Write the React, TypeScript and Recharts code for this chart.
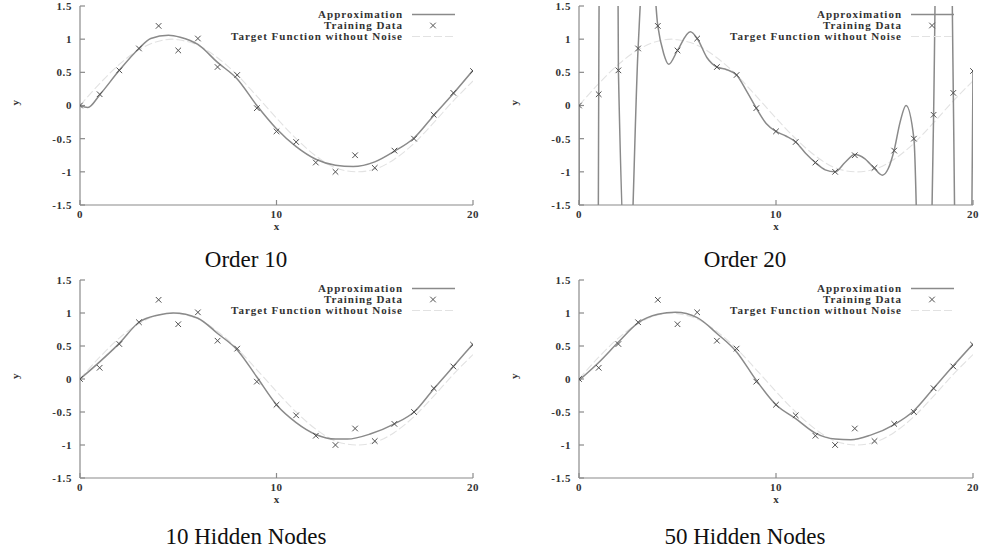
import React from "react";
import { ComposedChart, Line, Scatter, XAxis, YAxis } from "recharts";

const xTicks = [0, 10, 20];
const yTicks = [-1.5, -1, -0.5, 0, 0.5, 1, 1.5];

// noisy training samples
const trainX = [0, 1, 2, 3, 4, 5, 6, 7, 8, 9, 10, 11, 12, 13, 14, 15, 16, 17, 18, 19, 20];
const trainY = [0.0, 0.17, 0.53, 0.86, 1.2, 0.83, 1.01, 0.58, 0.46, -0.04, -0.39, -0.55, -0.86, -1.0, -0.75, -0.94, -0.68, -0.5, -0.14, 0.19, 0.52];

// target function without noise
const targetX = [0, 1, 2, 3, 4, 4.7, 5, 6, 7, 8, 9, 10, 11, 12, 13, 14.1, 15, 16, 17, 18, 19, 20];
const targetY = [0.0, 0.33, 0.62, 0.84, 0.97, 1.0, 0.99, 0.91, 0.72, 0.46, 0.14, -0.19, -0.5, -0.76, -0.94, -1.0, -0.96, -0.81, -0.57, -0.26, 0.07, 0.37];

// polynomial, order 10
const order10X = [0, 0.4, 1, 2, 3, 3.6, 4.5, 5.1, 6, 7, 8, 9, 10, 11, 12, 13, 13.9, 15, 16, 17, 18, 19, 20];
const order10Y = [0.0, -0.03, 0.16, 0.53, 0.86, 1.01, 1.06, 1.03, 0.92, 0.65, 0.4, 0.0, -0.35, -0.62, -0.81, -0.9, -0.92, -0.85, -0.69, -0.49, -0.15, 0.18, 0.53];

// polynomial, order 20 (swings far outside the frame near the ends)
const order20X = [0, 0.5, 1, 1.5, 2, 2.5, 3, 3.5, 4, 4.3, 4.55, 5, 5.65, 6, 6.5, 7, 7.5, 8, 8.5, 9, 9.5, 10, 10.5, 11, 11.5, 12, 12.5, 13, 13.5, 14, 14.5, 15, 15.4, 15.7, 16, 16.3, 16.6, 17, 17.5, 18, 18.5, 19, 19.5, 20];
const order20Y = [0.0, -40, 0.17, 30, 0.53, -3, 0.86, 3, 1.2, 0.78, 0.62, 0.83, 1.11, 1.01, 0.72, 0.58, 0.54, 0.46, 0.22, -0.04, -0.27, -0.39, -0.46, -0.55, -0.72, -0.86, -0.97, -1.0, -0.86, -0.74, -0.8, -0.95, -1.05, -0.95, -0.67, -0.25, 0.0, -0.5, -6, -0.14, 12, 0.19, -12, 0.53];

// network, 10 hidden nodes
const hidden10X = [0, 1, 2, 3, 4, 4.75, 6, 7, 8, 9, 10, 11, 12, 13, 13.6, 14.8, 16, 17, 18, 19, 20];
const hidden10Y = [0.0, 0.26, 0.54, 0.86, 0.97, 1.0, 0.92, 0.69, 0.44, 0.03, -0.39, -0.66, -0.84, -0.91, -0.91, -0.83, -0.68, -0.5, -0.15, 0.19, 0.53];

// network, 50 hidden nodes
const hidden50X = [0, 1, 2, 3, 4, 4.9, 6, 7, 8, 9, 10, 11, 12, 13, 13.8, 14.8, 16, 17, 18, 19, 20];
const hidden50Y = [-0.02, 0.25, 0.56, 0.85, 0.98, 1.01, 0.93, 0.69, 0.41, -0.02, -0.39, -0.6, -0.82, -0.91, -0.92, -0.85, -0.69, -0.48, -0.14, 0.2, 0.53];

const legendLabels = ["Approximation", "Training Data", "Target Function without Noise"];

const zip = (xs: number[], ys: number[]) => xs.map((x, i) => ({ x, y: ys[i] }));

const train = zip(trainX, trainY);
const target = zip(targetX, targetY);

const SERIF = '"Liberation Serif", "Times New Roman", serif';
const FRAME = "#8a8a8a";
const APPROX = "#8a8a8a";
const MARK = "#505050";
const TARGET = "#e2e2e2";

const tickStyle = { fontSize: 11, fontFamily: SERIF, fontWeight: "bold", fill: "#333", letterSpacing: 0.6 };
const axisStyle = { stroke: FRAME, strokeWidth: 1.2 };

const Cross = (p: any) => {
  const { cx, cy } = p;
  if (cx == null || cy == null) return null;
  const s = 2.8;
  return (
    <path
      d={`M${cx - s},${cy - s}L${cx + s},${cy + s}M${cx - s},${cy + s}L${cx + s},${cy - s}`}
      stroke={MARK}
      strokeWidth={1}
      fill="none"
    />
  );
};

interface PanelProps {
  left: number;
  top: number;
  width: number;
  height: number;
  approx: { x: number; y: number }[];
  title: string;
  titleX: number;
  titleY: number;
}

function Panel({ left, top, width, height, approx, title, titleX, titleY }: PanelProps) {
  const W = 80 + width + 10;
  const H = 6 + height + 30;
  const rows = [8.5, 19.5, 30.5];
  return (
    <>
      <div style={{ position: "absolute", left: left - 80, top: top - 6 }}>
        <ComposedChart width={W} height={H} margin={{ top: 6, right: 10, bottom: 0, left: 0 }}>
          <XAxis
            dataKey="x"
            type="number"
            domain={[0, 20]}
            ticks={xTicks}
            allowDataOverflow
            height={30}
            tickSize={-5}
            tickMargin={10}
            tick={tickStyle}
            axisLine={axisStyle}
            tickLine={axisStyle}
            label={{ value: "x", position: "insideBottom", offset: 5, fontSize: 11, fontFamily: SERIF, fontWeight: "bold", fill: "#333" }}
          />
          <XAxis
            xAxisId="top"
            orientation="top"
            type="number"
            domain={[0, 20]}
            ticks={xTicks}
            height={0}
            tickSize={-5}
            tickFormatter={() => ""}
            axisLine={axisStyle}
            tickLine={axisStyle}
          />
          <YAxis
            dataKey="y"
            type="number"
            domain={[-1.5, 1.5]}
            ticks={yTicks}
            allowDataOverflow
            width={80}
            tickSize={-5}
            tickMargin={13}
            tick={tickStyle}
            axisLine={axisStyle}
            tickLine={axisStyle}
            label={{ value: "y", angle: -90, position: "insideLeft", offset: 15, fontSize: 11, fontFamily: SERIF, fontWeight: "bold", fill: "#333" }}
          />
          <YAxis
            yAxisId="r"
            orientation="right"
            type="number"
            domain={[-1.5, 1.5]}
            ticks={yTicks}
            width={0}
            tickSize={-5}
            tickFormatter={() => ""}
            axisLine={axisStyle}
            tickLine={axisStyle}
          />
          <Line
            data={target}
            dataKey="y"
            type="monotone"
            stroke={TARGET}
            strokeWidth={1.1}
            strokeDasharray="8 3"
            dot={false}
            activeDot={false}
            isAnimationActive={false}
          />
          <Line
            data={approx}
            dataKey="y"
            type="monotone"
            stroke={APPROX}
            strokeWidth={1.5}
            dot={false}
            activeDot={false}
            isAnimationActive={false}
          />
          <Scatter data={train} dataKey="y" shape={Cross} isAnimationActive={false} />
        </ComposedChart>
      </div>
      {legendLabels.map((label, i) => (
        <div
          key={label}
          style={{
            position: "absolute",
            right: 981 - (left + 323),
            top: top + rows[i] - 5.5,
            fontFamily: SERIF,
            fontWeight: "bold",
            fontSize: 11,
            lineHeight: "11px",
            letterSpacing: 1.0,
            color: "#333",
            whiteSpace: "nowrap",
          }}
        >
          {label}
        </div>
      ))}
      <svg style={{ position: "absolute", left: left + 330, top: top }} width={50} height={40}>
        <line x1={2} x2={45} y1={rows[0]} y2={rows[0]} stroke={APPROX} strokeWidth={1.3} />
        <Cross cx={23} cy={rows[1]} />
        <line x1={2} x2={45} y1={rows[2]} y2={rows[2]} stroke={TARGET} strokeWidth={1.1} strokeDasharray="8 3" />
      </svg>
      <div
        style={{
          position: "absolute",
          left: titleX - 150,
          width: 300,
          top: titleY - 14,
          textAlign: "center",
          fontFamily: SERIF,
          fontSize: 23,
          lineHeight: "27px",
          color: "#111",
        }}
      >
        {title}
      </div>
    </>
  );
}

export default function App() {
  return (
    <div style={{ position: "absolute", left: 0, top: 0, width: 981, height: 548, background: "#fff", overflow: "hidden" }}>
      <Panel left={80} top={6} width={393} height={199} approx={zip(order10X, order10Y)} title="Order 10" titleX={246} titleY={260} />
      <Panel left={579} top={6} width={394} height={199} approx={zip(order20X, order20Y)} title="Order 20" titleX={745} titleY={260} />
      <Panel left={80} top={280} width={393} height={198} approx={zip(hidden10X, hidden10Y)} title="10 Hidden Nodes" titleX={246} titleY={537} />
      <Panel left={579} top={280} width={394} height={198} approx={zip(hidden50X, hidden50Y)} title="50 Hidden Nodes" titleX={745} titleY={537} />
    </div>
  );
}
